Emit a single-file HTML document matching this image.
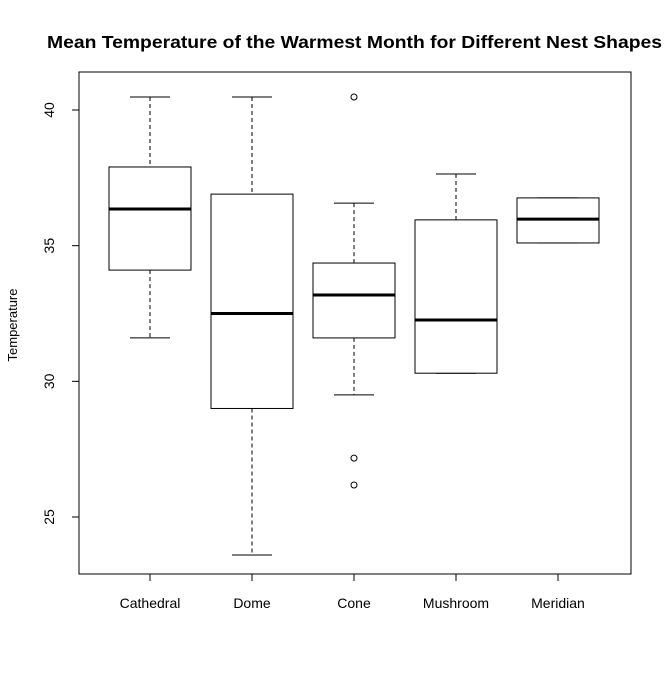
<!DOCTYPE html>
<html><head><meta charset="utf-8"><style>
body{margin:0;background:#fff;}
svg text{font-family:"Liberation Sans",Arial,sans-serif;}
</style></head><body>
<svg id="chart" width="672" height="672" xmlns="http://www.w3.org/2000/svg">
<rect width="672" height="672" fill="#fff"/>
<text x="354.5" y="48" text-anchor="middle" font-size="17.5" font-weight="bold" textLength="615" lengthAdjust="spacingAndGlyphs">Mean Temperature of the Warmest Month for Different Nest Shapes</text>
<rect x="79" y="72" width="552" height="502" fill="none" stroke="#000"/>
<text transform="translate(17,325) rotate(-90)" text-anchor="middle" font-size="13">Temperature</text>
<g id="yaxis"></g>
<g id="xaxis"></g>
<g id="boxes"></g>
</svg>
<script>
const categories=["Cathedral","Dome","Cone","Mushroom","Meridian"];
const whiskerLow=[31.6,23.6,29.5,30.3,35.1];
const q1=[34.1,29.0,31.6,30.3,35.1];
const median=[36.35,32.5,33.18,32.26,35.98];
const q3=[37.9,36.9,34.36,35.95,36.76];
const whiskerHigh=[40.48,40.48,36.57,37.64,36.76];
const outliers=[[],[],[40.48,27.17,26.18],[],[]];
const yTicks=[25,30,35,40];
const NS="http://www.w3.org/2000/svg";
function y(v){return 517-(v-25)*(407/15);}
function x(i){return 150+i*102;}
function mk(tag,attrs,parent){const e=document.createElementNS(NS,tag);for(const k in attrs)e.setAttribute(k,attrs[k]);parent.appendChild(e);return e;}
const ya=document.getElementById('yaxis'),xa=document.getElementById('xaxis'),bx=document.getElementById('boxes');
mk('line',{x1:79,x2:79,y1:y(25),y2:y(40),stroke:'#000'},ya);
yTicks.forEach(t=>{
 const l=mk('line',{x1:72,x2:79,y1:y(t),y2:y(t),stroke:'#000'},ya);
 
 
 const tx=mk('text',{transform:`translate(54,${y(t)}) rotate(-90)`,'text-anchor':'middle','font-size':'14'},ya);
 tx.textContent=t;
 
 
});
mk('line',{x1:x(0),x2:x(4),y1:574,y2:574,stroke:'#000'},xa);
categories.forEach((c,i)=>{
 const l=mk('line',{x1:x(i),x2:x(i),y1:574,y2:581,stroke:'#000'},xa);
 
 
 const tx=mk('text',{x:x(i),y:608,'text-anchor':'middle','font-size':'14'},xa);
 tx.textContent=c;
 
 
 const g=mk('g',{},bx);
 
 
 const cx=x(i),hw=41,cw=20;
 mk('line',{x1:cx,x2:cx,y1:y(whiskerHigh[i]),y2:y(q3[i]),stroke:'#000','stroke-dasharray':'4,3'},g);
 mk('line',{x1:cx,x2:cx,y1:y(q1[i]),y2:y(whiskerLow[i]),stroke:'#000','stroke-dasharray':'4,3'},g);
 mk('line',{x1:cx-cw,x2:cx+cw,y1:y(whiskerHigh[i]),y2:y(whiskerHigh[i]),stroke:'#000'},g);
 mk('line',{x1:cx-cw,x2:cx+cw,y1:y(whiskerLow[i]),y2:y(whiskerLow[i]),stroke:'#000'},g);
 mk('rect',{x:cx-hw,y:y(q3[i]),width:2*hw,height:y(q1[i])-y(q3[i]),fill:'#fff',stroke:'#000'},g);
 mk('line',{x1:cx-hw,x2:cx+hw,y1:y(median[i]),y2:y(median[i]),stroke:'#000','stroke-width':3},g);
 outliers[i].forEach(o=>{
  const p=mk('circle',{cx:cx,cy:y(o),r:3,fill:'none',stroke:'#000'},g);
  
  
 });
});
</script>
</body></html>
